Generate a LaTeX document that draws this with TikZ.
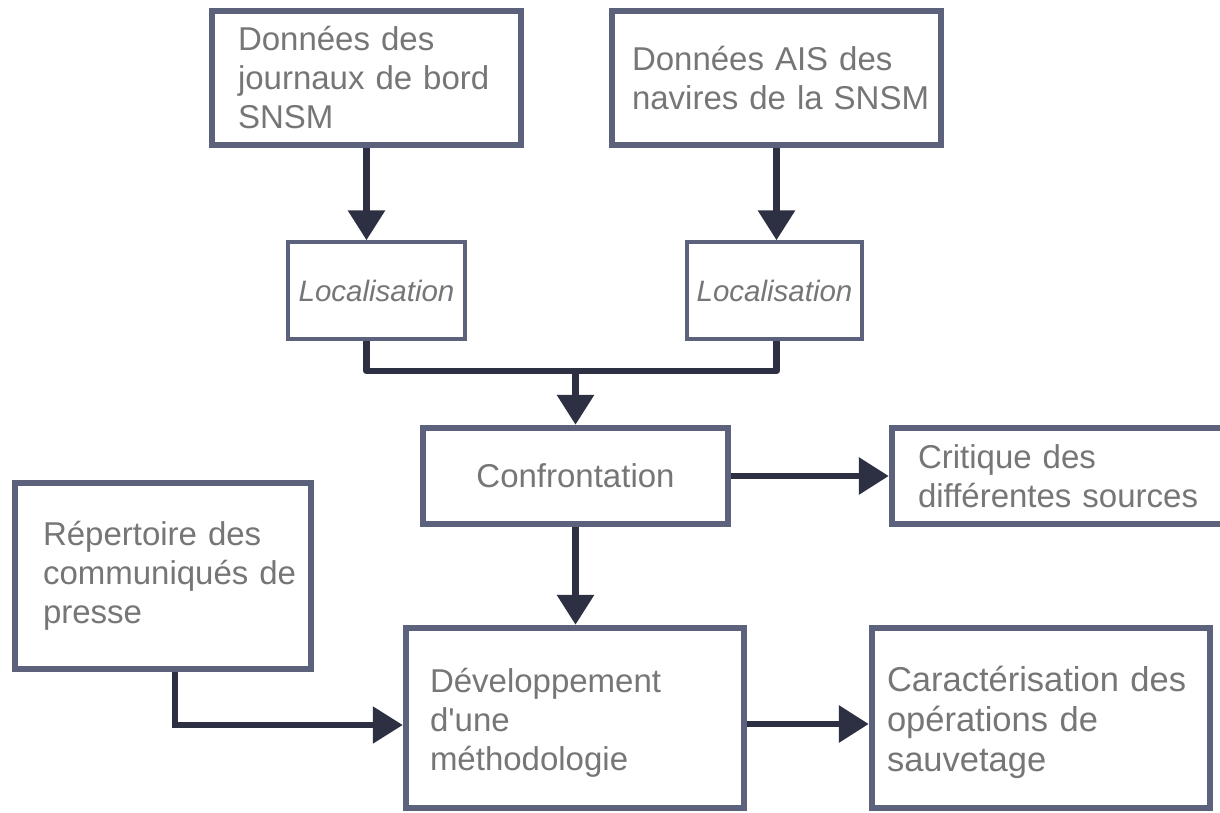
\documentclass[tikz,border=0pt]{standalone}
\usepackage{fontspec}
\setmainfont{Liberation Sans}
\usetikzlibrary{arrows.meta,calc}
\definecolor{bordc}{RGB}{92,98,124}
\definecolor{arrc}{RGB}{44,48,66}
\definecolor{txtc}{RGB}{118,118,118}
\begin{document}
\begin{tikzpicture}[x=1pt,y=-1pt,
  box/.style={draw=bordc, line width=6.5pt, text=txtc,
    font=\fontsize{33}{39}\selectfont, align=left, inner ysep=0pt},
  locbox/.style={draw=bordc, line width=3.5pt, text=txtc,
    font=\fontsize{29.5}{34}\selectfont\itshape, align=center,
    minimum height=97pt},
  arr/.style={draw=arrc, line width=6.5pt, -{Triangle[width=36pt,length=30pt]}},
  link/.style={draw=arrc, line width=6.5pt, line join=round}]
\useasboundingbox[fill=white] (0,0) rectangle (1220,813);

\node[box, minimum width=309pt, minimum height=134pt, inner xsep=26pt, text width=257pt]
  (B1) at (366.5,78) {\mbox{Données des}\\\mbox{journaux de bord}\\\mbox{SNSM}};
\node[box, minimum width=329pt, minimum height=134pt, inner xsep=20pt, text width=289pt]
  (B2) at (776.5,78) {\mbox{Données AIS des}\\\mbox{navires de la SNSM}};

\node[locbox, minimum width=177pt] (L1) at (376.5,290.5) {Localisation};
\node[locbox, minimum width=175pt] (L2) at (774.5,290.5) {Localisation};

\node[box, align=center, minimum width=305pt, minimum height=96pt] (C) at (575.5,476) {Confrontation};
\node[box, minimum width=333pt, minimum height=96pt, inner xsep=26pt, text width=281pt]
  (K) at (1058.5,476) {\mbox{Critique des}\\\mbox{différentes sources}};

\node[box, minimum width=296pt, minimum height=186pt, inner xsep=28pt, text width=240pt]
  (R) at (163,576) {\mbox{Répertoire des}\\\mbox{communiqués de}\\\mbox{presse}};
\node[box, minimum width=338pt, minimum height=180pt, inner xsep=24pt, text width=290pt]
  (D) at (575,718) {\mbox{\rule{0pt}{34pt}Développement}\\\mbox{d\textquotesingle une}\\\mbox{méthodologie}};
\node[box, minimum width=338pt, minimum height=180pt, inner xsep=15pt, text width=308pt,
  font=\fontsize{34.5}{40}\selectfont]
  (S) at (1041,718) {\mbox{\rule{0pt}{34pt}Caractérisation des}\\\mbox{opérations de}\\\mbox{sauvetage}};

\draw[arr] (B1.south) -- (B1.south |- L1.north);
\draw[arr] (B2.south) -- (B2.south |- L2.north);
\coordinate (J) at (575.5,371);
\draw[link] (B1.south |- L1.south) |- (J) -| (B2.south |- L2.south);
\draw[arr] (J) -- (C.north);
\draw[arr] (C.east) -- (K.west);
\draw[arr] (C.south) -- (C.south |- D.north);
\coordinate (Rd) at ([xshift=12pt]R.south);
\draw[arr, line width=5.5pt] (Rd) |- ([yshift=-7pt]D.west);
\draw[arr] ([yshift=-6pt]D.east) -- ([yshift=-6pt]S.west);
\end{tikzpicture}
\end{document}
